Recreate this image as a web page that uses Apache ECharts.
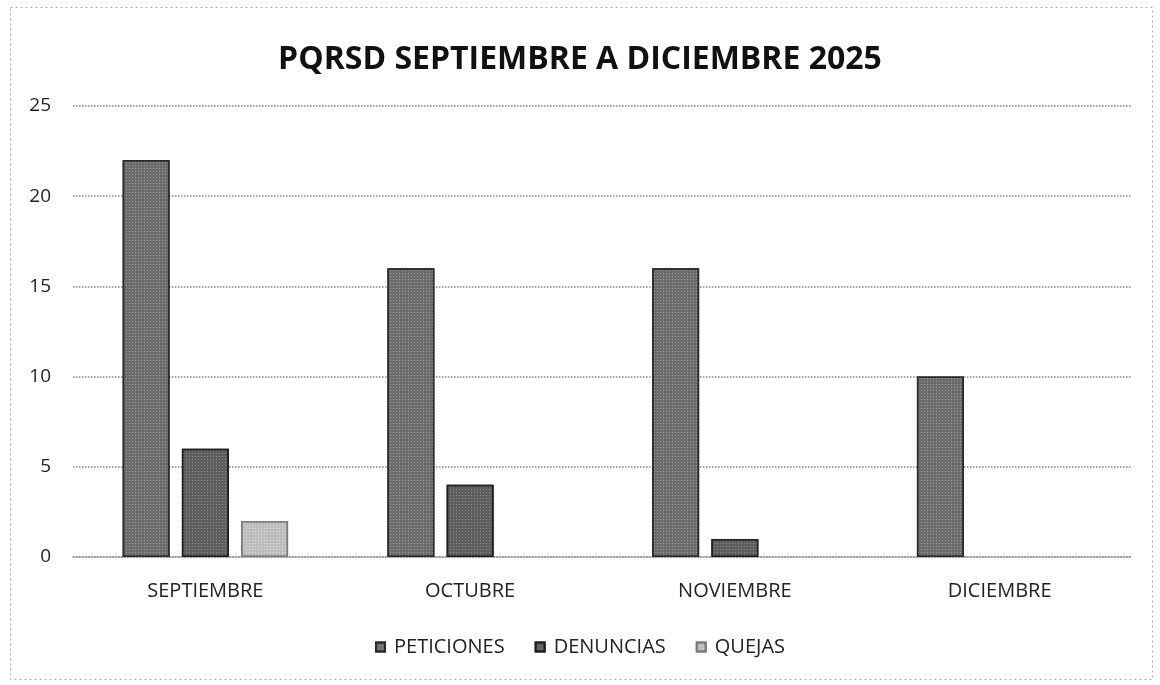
<!DOCTYPE html>
<html>
<head>
<meta charset="utf-8">
<script src="https://cdn.jsdelivr.net/npm/echarts@6/dist/echarts.min.js"></script>
<style>html,body{margin:0;padding:0;background:#fff}#c{width:1160px;height:685px}</style>
</head>
<body>
<div id="c"></div>
<script>
var categories = ['SEPTIEMBRE', 'OCTUBRE', 'NOVIEMBRE', 'DICIEMBRE'];
var peticiones = [22, 16, 16, 10];
var denuncias = [6, 4, 1, 0];
var quejas = [2, 0, 0, 0];
var seriesNames = ['PETICIONES', 'DENUNCIAS', 'QUEJAS'];
var titleText = 'PQRSD SEPTIEMBRE A DICIEMBRE 2025';

var chart = echarts.init(document.getElementById('c'), null, {renderer: 'canvas'});
var font = 'Open Sans, Lato, sans-serif';
function ser(name, data, color, border, speck) {
  return {
    name: name, type: 'bar', barWidth: 47, barGap: '26%',
    data: data.map(function (v) {
      return v === 0 ? {value: v, itemStyle: {borderWidth: 0, opacity: 0}} : v;
    }),
    itemStyle: {color: color, borderColor: border, borderWidth: 1.5,
      decal: {symbol: 'rect', symbolSize: 1, dashArrayX: [1, 2], dashArrayY: [1, 2],
        rotation: 0, color: speck}}
  };
}
chart.setOption({
  animation: false,
  backgroundColor: '#fff',
  aria: {enabled: false},
  title: {text: titleText, left: 'center', top: 39,
    textStyle: {fontFamily: font, fontWeight: 'bold', fontSize: 32, color: '#111'}},
  legend: {bottom: 23, left: 'center', icon: 'rect', itemWidth: 9, itemHeight: 9, itemGap: 30,
    textStyle: {fontFamily: font, fontSize: 20, color: '#222', padding: [0, 0, 0, 4]},
    data: seriesNames},
  grid: {left: 73, right: 28, top: 106, bottom: 128, containLabel: false},
  xAxis: {type: 'category', data: categories,
    axisLine: {lineStyle: {color: '#999', type: 'dotted', width: 1.5}},
    axisTick: {show: false},
    axisLabel: {margin: 24, fontFamily: font, fontSize: 20, color: '#222'}},
  yAxis: {type: 'value', min: 0, max: 25, interval: 5,
    axisLine: {show: false}, axisTick: {show: false},
    axisLabel: {margin: 22, fontFamily: font, fontSize: 19, color: '#222'},
    splitLine: {lineStyle: {color: '#888', type: 'dotted', width: 1.5}}},
  series: [
    ser(seriesNames[0], peticiones, '#6c6c6c', '#2a2a2a', 'rgba(255,255,255,0.35)'),
    ser(seriesNames[1], denuncias, '#5e5e5e', '#1e1e1e', 'rgba(255,255,255,0.3)'),
    ser(seriesNames[2], quejas, '#bdbdbd', '#7a7a7a', 'rgba(255,255,255,0.5)')
  ],
  graphic: [{type: 'rect', left: 8, top: 5, shape: {width: 1142, height: 672},
    style: {fill: 'none', stroke: '#aaa', lineWidth: 1, lineDash: [2, 3]}}]
});
</script>
</body>
</html>
